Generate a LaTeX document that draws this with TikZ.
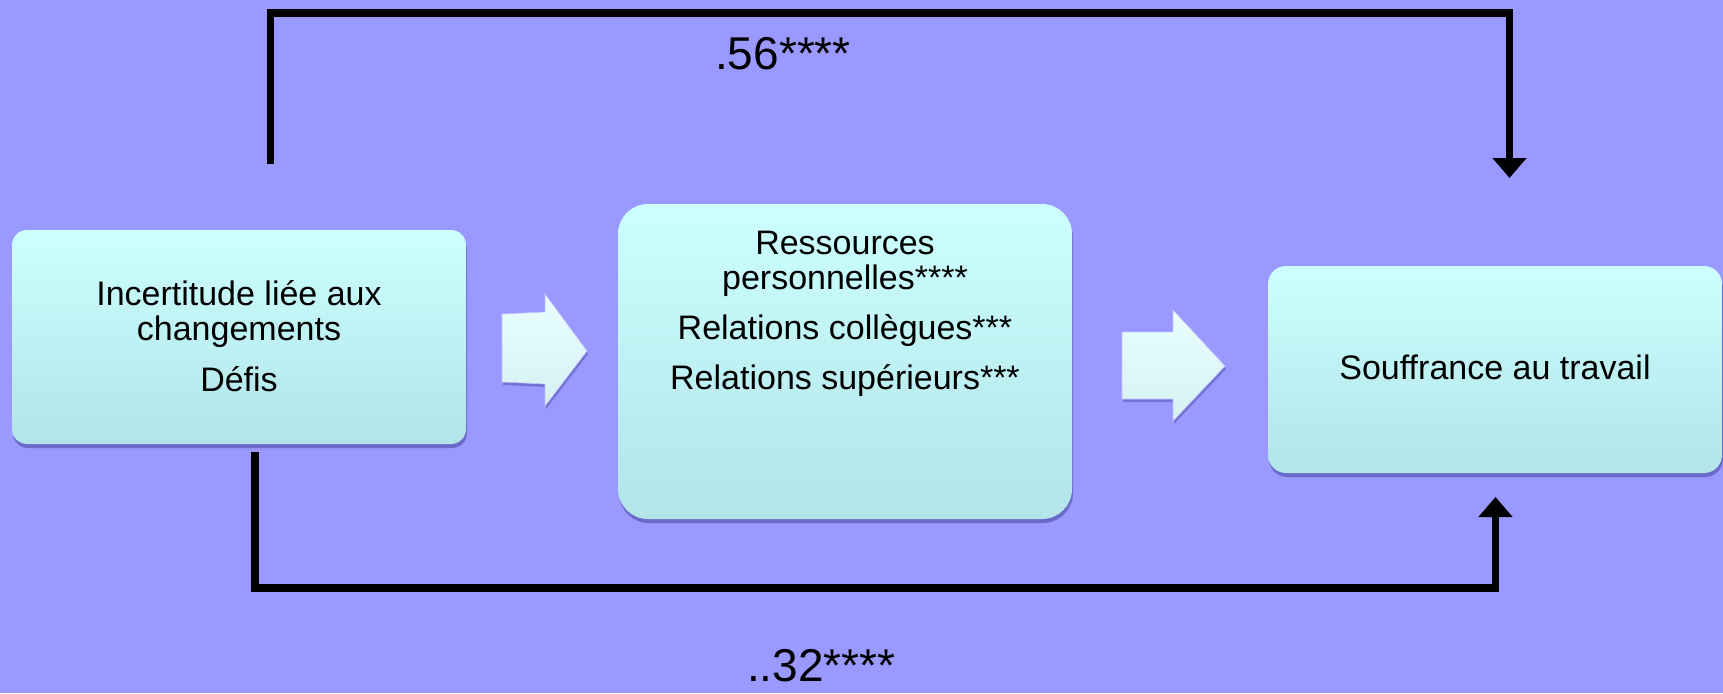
\documentclass[tikz,border=0pt]{standalone}
\usepackage{fontspec}
\setmainfont{Liberation Sans}
\usetikzlibrary{arrows.meta,shadows}
\definecolor{bg}{RGB}{153,153,255}
\definecolor{boxtop}{RGB}{204,255,255}
\definecolor{boxbot}{RGB}{178,228,232}
\definecolor{arrtop}{RGB}{232,255,255}
\definecolor{arrbot}{RGB}{214,240,242}
\tikzset{
  box/.style={inner sep=0pt, top color=boxtop, bottom color=boxbot,
    drop shadow={shadow xshift=1pt, shadow yshift=-4pt, opacity=.3, fill=black!70!blue}},
  boxtext/.style={inner sep=0pt, align=center, font=\fontsize{34}{35}\selectfont},
  lbl/.style={inner sep=0pt, anchor=base west, font=\fontsize{46}{50}\selectfont},
  link/.style={line width=7.5pt, draw=black, -{Triangle[width=33pt,length=20pt]}},
  blockarrow/.style={top color=arrtop, bottom color=arrbot, draw=bg!60!white, line width=0.6pt,
    drop shadow={shadow xshift=1pt, shadow yshift=-3pt, opacity=.25, fill=black!70!blue}}
}
\begin{document}
\begin{tikzpicture}[x=1pt,y=-1pt]
\fill[bg] (0,0) rectangle (1723,693);
\useasboundingbox (0,0) rectangle (1723,693);

% boxes
\node[box, rounded corners=15pt, minimum width=454pt, minimum height=214pt] (b1) at (239,337) {};
\node[box, rounded corners=30pt, minimum width=454pt, minimum height=315pt] (b2) at (845,361.5) {};
\node[box, rounded corners=18pt, minimum width=454pt, minimum height=207pt] (b3) at (1495,369.5) {};

% texts
\node[boxtext, anchor=north] (t1) at (239,280) {Incertitude liée aux\\changements\\[16pt]Défis};
\node[boxtext, anchor=north] (t2) at (845,231) {Ressources\\personnelles****\\[15pt]Relations collègues***\\[15pt]Relations supérieurs***};
\node[boxtext, anchor=base] (t3) at (1495,379) {Souffrance au travail};

% block arrows
\path[blockarrow] (502,314) -- (545,312) -- (545,294) -- (587,351) -- (545,406) -- (545,384) -- (502,382) -- cycle;
\path[blockarrow] (1122,332) -- (1173,332) -- (1173,310) -- (1225,366) -- (1173,421) -- (1173,399) -- (1122,399) -- cycle;

% connectors
\coordinate (s1) at (270.5,164);
\coordinate (e1) at (1509.5,178);
\coordinate (s2) at (255,452);
\coordinate (e2) at (1495.5,497);
\draw[link] (s1) -- (270.5,13) -- (1509.5,13) -- (e1);
\draw[link] (s2) -- (255,588) -- (1495.5,588) -- (e2);

% labels
\node[lbl] (l1) at (715,70) {.56****};
\node[lbl] (l2) at (747,681) {..32****};
\end{tikzpicture}
\end{document}
